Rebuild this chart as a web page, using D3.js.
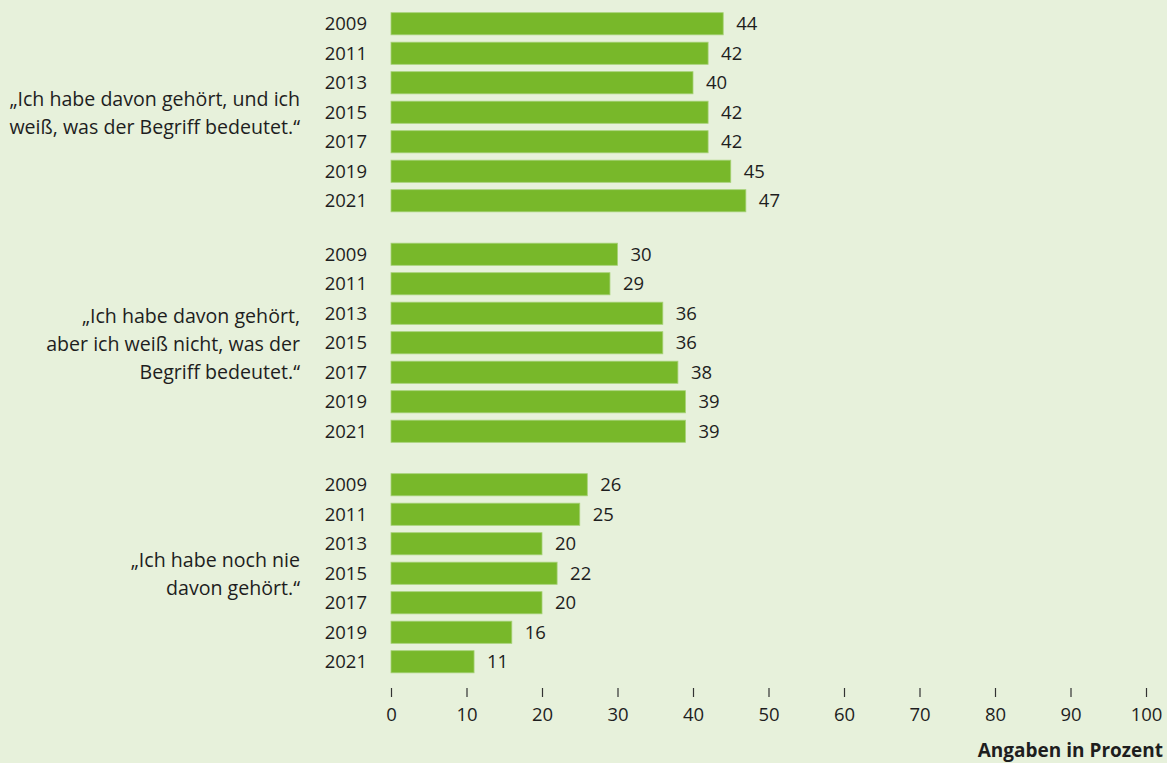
<!DOCTYPE html>
<html>
<head>
<meta charset="utf-8">
<script src="https://cdn.jsdelivr.net/npm/d3@7"></script>
<style>
  html, body { margin: 0; padding: 0; background: #e7f1db; }
  svg { display: block; }
  text { font-family: "Open Sans", "Noto Sans", sans-serif; fill: #1e1e1e; }
</style>
</head>
<body>
<svg id="chart" width="1167" height="763"></svg>
<script>
const groups = ["g1", "g2", "g3"];
const groupLabels = [
  ["\u201EIch habe davon geh\u00F6rt, und ich", "wei\u00DF, was der Begriff bedeutet.\u201C"],
  ["\u201EIch habe davon geh\u00F6rt,", "aber ich wei\u00DF nicht, was der", "Begriff bedeutet.\u201C"],
  ["\u201EIch habe noch nie", "davon geh\u00F6rt.\u201C"]
];
const years = ["2009", "2011", "2013", "2015", "2017", "2019", "2021"];
const valuesKnowMeaning = [44, 42, 40, 42, 42, 45, 47];
const valuesHeardNoMeaning = [30, 29, 36, 36, 38, 39, 39];
const valuesNeverHeard = [26, 25, 20, 22, 20, 16, 11];
const seriesValues = [valuesKnowMeaning, valuesHeardNoMeaning, valuesNeverHeard];
const xTicks = [0, 10, 20, 30, 40, 50, 60, 70, 80, 90, 100];
const axisTitle = "Angaben in Prozent";

const svg = d3.select("#chart");
const x = d3.scaleLinear().domain([0, 100]).range([391, 1146]);

const yGroup = d3.scaleBand().domain(groups).range([9, 676.5]).paddingInner(24 / 230.5).paddingOuter(0);
const yYear = d3.scaleBand().domain(years).range([0, yGroup.bandwidth()]).paddingInner(0.25).paddingOuter(0.125);

const barColor = "#78b82a";

groups.forEach((g, gi) => {
  const gy = yGroup(g);
  const grp = svg.append("g").attr("transform", `translate(0,${gy})`);
  const data = years.map((yr, i) => ({ yr, v: seriesValues[gi][i] }));

  grp.selectAll("rect").data(data).join("rect")
    .attr("x", x(0))
    .attr("y", d => yYear(d.yr))
    .attr("width", d => x(d.v) - x(0))
    .attr("height", yYear.bandwidth())
    .attr("fill", barColor)
    .attr("stroke", "#a6d176")
    .attr("stroke-width", 0.8);

  grp.selectAll("text.val").data(data).join("text")
    .attr("class", "val")
    .attr("x", d => x(d.v) + 13)
    .attr("y", d => yYear(d.yr) + yYear.bandwidth() / 2)
    .attr("dy", "0.36em")
    .attr("font-size", 18.5)
    .text(d => d.v);

  grp.selectAll("text.yr").data(data).join("text")
    .attr("class", "yr")
    .attr("x", 367)
    .attr("y", d => yYear(d.yr) + yYear.bandwidth() / 2)
    .attr("dy", "0.36em")
    .attr("text-anchor", "end")
    .attr("font-size", 18.5)
    .text(d => d.yr);

  const lines = groupLabels[gi];
  const lh = 28;
  const cy = yGroup.bandwidth() / 2 + 1;
  const lbl = grp.append("text")
    .attr("text-anchor", "end")
    .attr("font-size", 19.6);
  lines.forEach((ln, li) => {
    lbl.append("tspan")
      .attr("x", 300)
      .attr("y", cy + (li - (lines.length - 1) / 2) * lh)
      .attr("dy", "0.35em")
      .text(ln);
  });
});

const axis = d3.axisBottom(x).tickValues(xTicks).tickSize(9).tickPadding(11).tickFormat(d3.format("d"));
const ax = svg.append("g").attr("transform", "translate(0,688)").call(axis);
ax.select(".domain").remove();
ax.selectAll(".tick line").attr("stroke", "#333").attr("stroke-width", 1.2);
ax.selectAll(".tick text").attr("font-size", 18.5).attr("font-family", "\"Open Sans\", \"Noto Sans\", sans-serif").attr("fill", "#1e1e1e");

svg.append("text")
  .attr("x", 1163)
  .attr("y", 750)
  .attr("dy", "0.35em")
  .attr("text-anchor", "end")
  .attr("font-size", 19)
  .attr("font-weight", "bold")
  .text(axisTitle);
</script>
</body>
</html>
